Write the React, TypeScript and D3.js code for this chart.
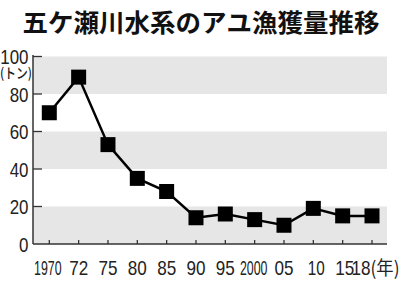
import React from "react";
import * as d3 from "d3";

const title = "五ケ瀬川水系のアユ漁獲量推移";
const categories = ["1970", "72", "75", "80", "85", "90", "95", "2000", "05", "10", "15", "18"];
const values = [70, 89, 53, 35, 28, 14, 16, 13, 10, 19, 15, 15];
const yTicks = [0, 20, 40, 60, 80, 100];
const bands: [number, number][] = [[0, 20], [40, 60], [80, 100]];
const yUnit = "(トン)";
const xUnit = "(年)";

const W = 400, H = 284;
const left = 33, right = 387, top = 56.5, bottom = 244;

export default function App() {
  const x = d3.scalePoint<string>().domain(categories).range([49.3, 372]);
  const y = d3.scaleLinear().domain([0, 100]).range([bottom, top]);
  const line = d3.line<number>().x((_, i) => x(categories[i])!).y((v) => y(v));
  const ms = 15;
  const num = "'Liberation Sans', Arial, sans-serif";
  const jp = "'Noto Sans CJK JP', sans-serif";
  const shifts: Record<string, number> = { "1970": -1.5, "2000": -1, "10": 3, "15": 2, "18": -11 };
  return (
    <svg width={W} height={H} style={{ position: "absolute", left: 0, top: 0, background: "#fff" }}>
      <text x={201} y={32} fontFamily={jp} fontWeight={700} fontSize={25} textAnchor="middle" textLength={357} lengthAdjust="spacingAndGlyphs" fill="#111">{title}</text>
      {bands.map(([a, b], i) => (
        <rect key={i} x={left} y={y(b)} width={right - left} height={y(a) - y(b)} fill="#e6e6e6" />
      ))}
      {yTicks.map((t) => (
        <g key={t}>
          {t > 0 && <line x1={left} x2={left + 9} y1={y(t)} y2={y(t)} stroke="#333" strokeWidth={1.3} />}
          <text x={28.5} y={y(t)} dy="0.36em" textAnchor="end" fontFamily={num} fontSize={21} fill="#222"
            textLength={String(t).length * 9.4} lengthAdjust="spacingAndGlyphs">{t}</text>
        </g>
      ))}
      <text x={0} y={78} fontFamily={jp} fontSize={14} fontWeight={500} fill="#222" textLength={32} lengthAdjust="spacingAndGlyphs">{yUnit}</text>
      {categories.map((c) => (
        <line key={c} x1={x(c)!} x2={x(c)!} y1={bottom} y2={bottom - 4} stroke="#333" strokeWidth={1.3} />
      ))}
      {categories.map((c) => {
        const w = c.length === 4 ? 27.5 : c === "10" ? 17 : 19;
        return (
          <text key={c} x={x(c)! + (shifts[c] ?? 0)} y={274.5} textAnchor="middle" fontFamily={num} fontSize={21} fill="#222"
            textLength={w} lengthAdjust="spacingAndGlyphs">{c}</text>
        );
      })}
      <text x={370.5} y={275} fontFamily={jp} fontSize={19} fill="#222" textLength={29} lengthAdjust="spacingAndGlyphs">{xUnit}</text>
      <line x1={left} x2={left} y1={55} y2={bottom} stroke="#333" strokeWidth={1.5} />
      <line x1={left} x2={right} y1={bottom} y2={bottom} stroke="#333" strokeWidth={1.5} />
      <path d={line(values)!} fill="none" stroke="#000" strokeWidth={2.5} />
      {values.map((v, i) => (
        <rect key={i} x={x(categories[i])! - ms / 2} y={y(v) - ms / 2} width={ms} height={ms} fill="#000" />
      ))}
    </svg>
  );
}
